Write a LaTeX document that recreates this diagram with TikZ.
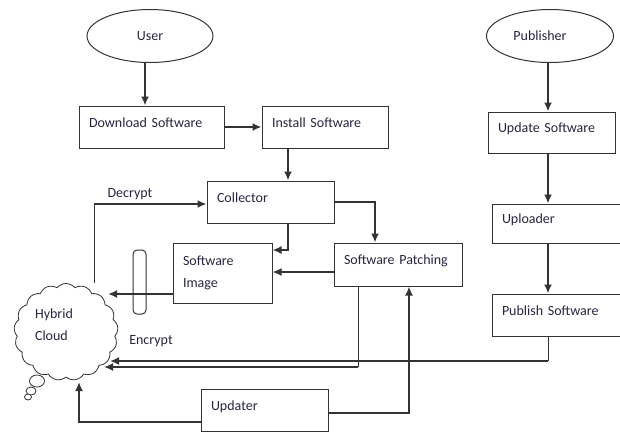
\documentclass[tikz,border=0pt]{standalone}
\usepackage{fontspec}
\setmainfont{Carlito}
\usetikzlibrary{arrows.meta,shapes.geometric,shapes.symbols}
\definecolor{lc}{HTML}{333333}
\definecolor{tc}{HTML}{2A2440}
\begin{document}
\begin{tikzpicture}[x=1pt,y=-1pt,
  font=\fontsize{14}{22}\selectfont,
  boxb/.style={draw=lc, line width=1pt, rectangle, align=left, inner xsep=10pt, inner ysep=0pt, text=tc},
  bx/.style={boxb, text height=10pt, text depth=10pt},
  oval/.style={ellipse, draw=lc, line width=1pt, inner sep=0pt, text=tc},
  lbl/.style={inner sep=0pt, text=tc},
  arr/.style={draw=lc, line width=2pt, -{Latex[length=9pt,width=8pt]}},
  thinl/.style={draw=lc, line width=1pt},
  bubble/.style={ellipse, draw=lc, line width=0.8pt, fill=white, inner sep=0pt}]
\useasboundingbox (0,0) rectangle (620,432);
\clip (0,0) rectangle (620,432);

% ovals
\node[oval, minimum width=126pt, minimum height=53pt] (user) at (150,36) {User};
\node[oval, minimum width=127pt, minimum height=53pt] (pub) at (550,36) {Publisher\hspace*{20pt}};

% boxes
\node[bx, text width=125pt, minimum height=42pt] (dl) at (151.5,127) {Download Software};
\node[bx, text width=106pt, minimum height=42pt] (inst) at (325,127) {Install Software};
\node[bx, text width=107pt, minimum height=42pt] (coll) at (270.5,202) {Collector};
\node[boxb, text width=79pt, minimum height=60pt] (img) at (222.5,273) {Software\\Image};
\node[bx, text width=108pt, minimum height=43pt] (patch) at (398,264.5) {Software Patching};
\node[bx, text width=107pt, minimum height=41pt] (upd) at (551.5,132.5) {Update Software};
\node[bx, text width=113pt, minimum height=39pt] (upl) at (558.5,223.5) {Uploader};
\node[bx, text width=113pt, minimum height=42pt] (pubsw) at (558.5,315) {Publish Software};
\node[bx, text width=107pt, minimum height=42pt] (updater) at (264.5,410) {Updater};

% cloud and thought bubbles
\node[bubble, minimum width=15pt, minimum height=12pt] (b1) at (37,381) {};
\node[bubble, minimum width=10pt, minimum height=8pt] (b2) at (31,391) {};
\node[bubble, minimum width=7pt, minimum height=6pt] (b3) at (28,397) {};
\node[cloud, draw=lc, line width=0.8pt, fill=white, cloud puffs=17, cloud puff arc=100, aspect=1.07,
      minimum width=104pt, minimum height=97pt, inner sep=0pt] (cloud) at (66,332) {};
\node[lbl, align=left] (hc) at (54,324.5) {Hybrid\\Cloud};

% capsule
\node[draw=lc, line width=1pt, rounded corners=4pt, minimum width=13pt, minimum height=64pt, inner sep=0pt] (cap) at (139.5,282) {};

% labels
\node[lbl] (dec) at (130,194) {Decrypt};
\node[lbl] (enc) at (151,341) {Encrypt};

% helper coordinates
\coordinate (xa) at (145,0);
\coordinate (xb) at (288,0);
\coordinate (xc) at (94,204);
\coordinate (xd) at (375,0);
\coordinate (xe) at (358,0);
\coordinate (xf) at (548,0);
\coordinate (xg) at (409,0);
\coordinate (ya) at (0,250);
\coordinate (yb) at (0,272);
\coordinate (yc) at (0,294);
\coordinate (yd) at (0,422);
\coordinate (ye) at (0,413);
\coordinate (t1) at (108,294);
\coordinate (t2) at (110,361);
\coordinate (t3) at (104,367);
\coordinate (t4) at (79,382);

% connectors
\draw[arr] (user.south -| xa) -- (dl.north -| xa);
\draw[arr] (dl.east) -- (inst.west);
\draw[arr] (inst.south -| xb) -- (coll.north -| xb);
\draw[thinl] (cloud.north -| xc) -- (xc);
\draw[arr] (xc) -- (coll.west |- xc);
\draw[arr, line width=1.6pt] (coll.south -| xb) |- (img.east |- ya);
\draw[arr] (coll.east) -| (patch.north -| xd);
\draw[arr] (patch.west |- yb) -- (img.east |- yb);
\draw[arr] (img.west |- yc) -- (t1);
\draw[thinl] (patch.south -| xe) -- (xe |- t3);
\draw[arr] (xe |- t3) -- (t3);
\draw[thinl] (pubsw.south -| xf) -- (xf |- t2);
\draw[arr] (xf |- t2) -- (t2);
\draw[arr] (updater.west |- yd) -| (t4);
\draw[arr] (updater.east |- ye) -| (patch.south -| xg);
\draw[arr] (pub.south -| xf) -- (upd.north -| xf);
\draw[arr] (upd.south -| xf) -- (upl.north -| xf);
\draw[arr] (upl.south -| xf) -- (pubsw.north -| xf);
\end{tikzpicture}
\end{document}
